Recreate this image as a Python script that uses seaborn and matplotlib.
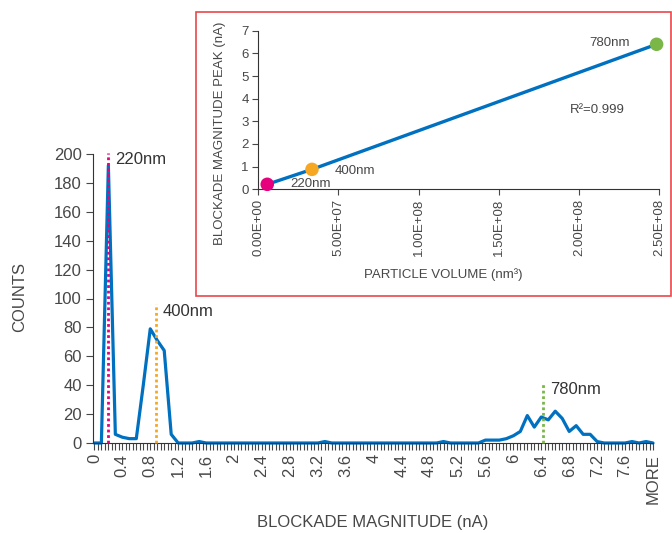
import numpy as np
import matplotlib
matplotlib.use("Agg")
import matplotlib.pyplot as plt
from matplotlib.patches import Rectangle
from matplotlib.ticker import MultipleLocator
import seaborn as sns

sns.set_theme(style="ticks")
plt.rcParams["font.family"] = ["Liberation Sans", "DejaVu Sans"]
TXT = "#474747"

# histogram: bins of 0.1 nA from 0 to 7.9, plus MORE
bin_labels = [f"{v:g}" for v in np.round(np.arange(0, 8.0, 0.1), 1)] + ["MORE"]
counts = [
    0, 0, 192, 6, 4, 3, 3, 40, 79, 71,
    64, 6, 0, 0, 0, 1, 0, 0, 0, 0,
    0, 0, 0, 0, 0, 0, 0, 0, 0, 0,
    0, 0, 0, 1, 0, 0, 0, 0, 0, 0,
    0, 0, 0, 0, 0, 0, 0, 0, 0, 0,
    1, 0, 0, 0, 0, 0, 2, 2, 2, 3,
    5, 8, 19, 11, 18, 16, 22, 17, 8, 12,
    6, 6, 1, 0, 0, 0, 0, 1, 0, 1,
    0,
]

# particle sizes and their peak blockade
sizes = ["220nm", "400nm", "780nm"]
size_colors = ["#e6007e", "#f7a823", "#7ab648"]
peak_na = [0.2, 0.885, 6.43]
marker_tops = [201, 96, 42]
label_y = [196.5, 91, 37]

# inset: peak vs particle volume
volumes = [5.58e6, 3.35e7, 2.485e8]
peaks = [0.22, 0.88, 6.4]
vol_ticks = [0, 5e7, 1e8, 1.5e8, 2e8, 2.5e8]

fig = plt.figure(figsize=(6.72, 5.33), dpi=100)

# ---- main chart
ax = fig.add_axes([93 / 672, 90 / 533, 560 / 672, 289 / 533])
idx = np.arange(len(counts))
sns.lineplot(x=idx, y=counts, ax=ax, color="#0070c0", lw=2.3, clip_on=False)

for na, top, c, name, ly in zip(peak_na, marker_tops, size_colors, sizes, label_y):
    pos = na / 0.1
    ax.plot([pos, pos], [0, top], color=c, lw=2, ls=(0, (1, 1)), clip_on=False, zorder=3)
    ax.text(pos + 0.9, ly, name, fontsize=12, color="#333333", va="center", ha="left")

ax.set_xlim(-0.2, 80)
ax.set_ylim(0, 200)
ax.set_yticks(range(0, 201, 20))
ax.set_xticks(idx[::4])
ax.set_xticklabels(bin_labels[::4], rotation=90)
ax.xaxis.set_minor_locator(MultipleLocator(0.5))
ax.tick_params(axis="both", labelsize=12, colors=TXT, length=5, width=0.8, pad=3)
ax.tick_params(axis="x", which="minor", length=5, width=0.8, color=TXT)
for s in ["top", "right"]:
    ax.spines[s].set_visible(False)
for s in ["left", "bottom"]:
    ax.spines[s].set_color("#333333")
    ax.spines[s].set_linewidth(0.8)
ax.set_xlabel("")
ax.set_ylabel("")
fig.text(373 / 672, 1 - 523 / 533, "BLOCKADE MAGNITUDE (nA)", fontsize=12,
         color=TXT, ha="center", va="center")
fig.text(20 / 672, 1 - 297 / 533, "COUNTS", fontsize=12, color=TXT,
         ha="center", va="center", rotation=90)

# ---- inset frame
frame = Rectangle((196 / 672, 1 - 296 / 533), 475 / 672, 284 / 533,
                  transform=fig.transFigure, facecolor="white",
                  edgecolor="#e8474c", lw=1.2, zorder=1)
fig.add_artist(frame)

ax2 = fig.add_axes([258.3 / 672, 1 - 189.3 / 533, 400.7 / 672, 158.6 / 533])
ax2.set_zorder(2)
ax2.patch.set_alpha(0)
sns.lineplot(x=volumes, y=peaks, ax=ax2, color="#0070c0", lw=2.4, clip_on=False)
sns.scatterplot(x=volumes, y=peaks, hue=sizes, palette=size_colors, s=95,
                edgecolor="none", legend=False, ax=ax2, zorder=4, clip_on=False)
ax2.set_xlim(0, 2.5e8)
ax2.set_ylim(0, 7)
ax2.set_yticks(range(0, 8))
ax2.set_xticks(vol_ticks)
ax2.set_xticklabels([f"{v:.2E}" for v in vol_ticks], rotation=90)
ax2.tick_params(axis="both", labelsize=9.5, colors=TXT, length=4, width=0.8, pad=3)
for s in ["top", "right"]:
    ax2.spines[s].set_visible(False)
for s in ["left", "bottom"]:
    ax2.spines[s].set_color("#333333")
    ax2.spines[s].set_linewidth(0.8)
ax2.set_xlabel("")
ax2.set_ylabel("")

ax2.text(2.317e8, 6.44, "780nm", fontsize=9.5, color=TXT, ha="right", va="center")
ax2.text(4.78e7, 0.82, "400nm", fontsize=9.5, color=TXT, ha="left", va="center")
ax2.text(1.98e7, 0.23, "220nm", fontsize=9.5, color=TXT, ha="left", va="center")
ax2.text(1.943e8, 3.5, "R²=0.999", fontsize=9.5, color=TXT, ha="left", va="center")

fig.text(220 / 672, 1 - 133 / 533, "BLOCKADE MAGNITUDE PEAK (nA)", fontsize=9.5,
         color=TXT, ha="center", va="center", rotation=90, zorder=5)
fig.text(443 / 672, 1 - 275 / 533, "PARTICLE VOLUME (nm³)", fontsize=9.5,
         color=TXT, ha="center", va="center", zorder=5)

fig.savefig("out.png", dpi=100)
